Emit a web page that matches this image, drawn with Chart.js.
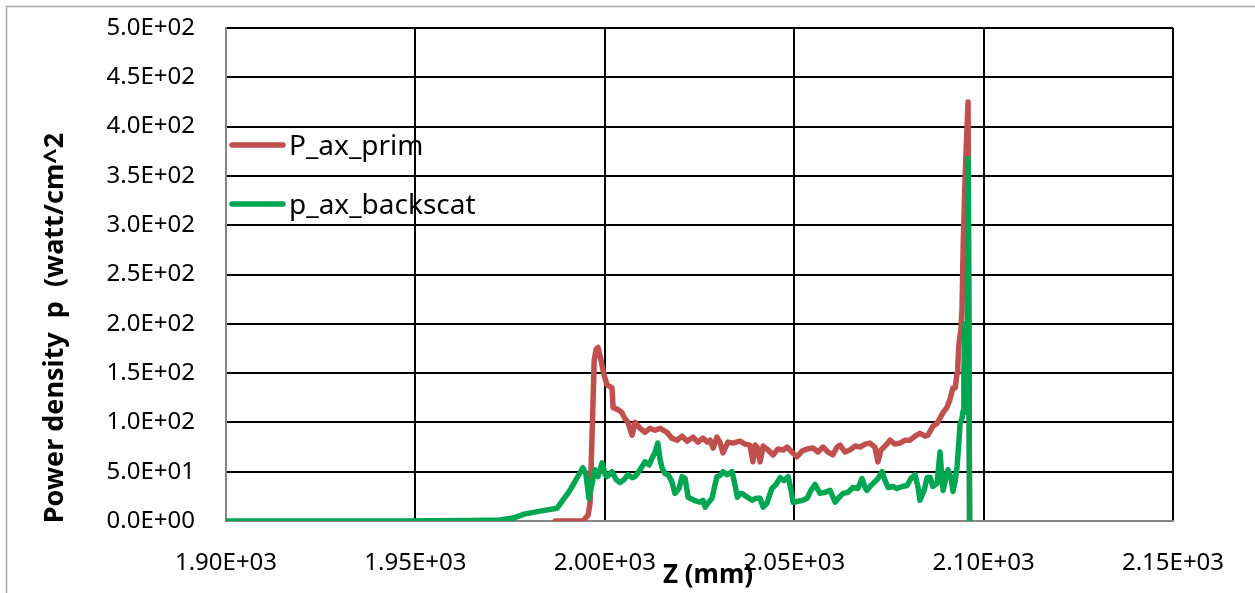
<!DOCTYPE html>
<html>
<head>
<meta charset="utf-8">
<title>Power density</title>
<script src="https://cdn.jsdelivr.net/npm/chart.js@4/dist/chart.umd.min.js"></script>
<style>
  html, body { margin: 0; padding: 0; background: #fff; }
  canvas { display: block; }
</style>
</head>
<body>
<canvas id="powerChart" width="1255" height="593"></canvas>
<script>
// ---------------------- data ----------------------
// Z (mm) / p (watt/cm^2), primary beam
const primZ = [1986.9, 1994.2, 1995.6, 1996.1, 1996.6, 1997.2, 1997.7, 1998.2, 1999.0, 1999.8,
  2000.6, 2001.9, 2002.2, 2003.5, 2004.5, 2005.3, 2006.1, 2007.2, 2008.0, 2009.3,
  2010.6, 2011.9, 2013.3, 2014.6, 2016.4, 2017.7, 2019.1, 2020.4, 2021.7, 2023.3,
  2024.6, 2025.9, 2027.0, 2027.8, 2028.6, 2029.6, 2030.4, 2031.2, 2032.5, 2033.8,
  2035.7, 2037.0, 2038.3, 2039.1, 2039.7, 2040.2, 2041.0, 2041.8, 2043.1, 2044.4,
  2045.7, 2047.1, 2048.1, 2049.4, 2050.7, 2052.1, 2053.4, 2055.0, 2056.3, 2057.6,
  2058.9, 2060.2, 2061.3, 2062.1, 2063.4, 2064.7, 2066.1, 2067.4, 2068.7, 2070.0,
  2071.3, 2072.1, 2072.9, 2074.0, 2075.3, 2076.6, 2077.9, 2079.3, 2080.6, 2081.9,
  2083.2, 2084.5, 2085.3, 2086.6, 2087.7, 2089.3, 2090.3, 2091.1, 2091.9, 2092.5,
  2093.0, 2093.2, 2093.5, 2094.0, 2094.3, 2094.6, 2095.1, 2095.6, 2095.9, 2096.3];
const primP = [0, 0, 6, 18, 82, 163, 174, 176, 163, 148,
  138, 135, 115, 113, 110, 104, 100, 87, 100, 94,
  90, 94, 92, 94, 90, 84, 82, 86, 81, 85,
  80, 84, 80, 82, 74, 85, 80, 69, 80, 79,
  81, 78, 77, 60, 77, 75, 60, 76, 72, 67,
  73, 72, 75, 70, 65, 71, 73, 74, 70, 75,
  70, 67, 75, 77, 70, 72, 76, 75, 78, 79,
  75, 60, 72, 76, 82, 78, 79, 82, 82, 86,
  89, 86, 87, 96, 99, 110, 115, 123, 135, 135,
  150, 158, 180, 194, 214, 278, 346, 397, 425, 0];

// backscattered
const backZ = [1900, 1920, 1945, 1964.4, 1972.3, 1975.8, 1978.7, 1982.9, 1987.4, 1990.8,
  1994.2, 1995.0, 1995.8, 1996.6, 1997.4, 1998.2, 1999.3, 2000.1, 2000.6, 2001.9,
  2003.0, 2004.0, 2005.1, 2006.1, 2007.2, 2008.0, 2009.3, 2010.6, 2011.7, 2012.5,
  2013.3, 2014.0, 2014.6, 2015.1, 2015.9, 2016.7, 2017.7, 2018.5, 2019.6, 2020.4,
  2021.2, 2022.0, 2023.6, 2025.1, 2025.9, 2026.5, 2027.2, 2028.3, 2029.1, 2029.6,
  2030.4, 2031.2, 2032.3, 2033.6, 2034.4, 2035.0, 2035.7, 2036.2, 2037.3, 2038.9,
  2039.9, 2041.0, 2041.8, 2042.8, 2044.1, 2045.2, 2046.3, 2047.3, 2048.4, 2049.2,
  2049.7, 2051.0, 2052.3, 2053.4, 2054.4, 2055.5, 2056.8, 2058.1, 2059.5, 2060.8,
  2062.1, 2062.9, 2064.2, 2065.5, 2066.8, 2067.9, 2068.7, 2069.2, 2070.0, 2070.8,
  2071.9, 2073.2, 2074.0, 2074.8, 2076.1, 2077.1, 2078.5, 2079.8, 2080.8, 2081.9,
  2082.7, 2083.2, 2084.3, 2085.1, 2085.9, 2086.6, 2087.7, 2088.5, 2089.0, 2089.3,
  2090.1, 2090.6, 2091.4, 2091.9, 2092.5, 2093.0, 2093.5, 2093.8, 2094.3, 2094.6,
  2094.8, 2095.1, 2095.4, 2095.6, 2095.9, 2096.3];
const backP = [0, 0, 0, 0.5, 1, 3, 7, 10, 13, 31,
  54, 48, 23, 37, 52, 45, 59, 47, 45, 50,
  42, 39, 42, 47, 44, 45, 52, 60, 57, 64,
  70, 79, 62, 54, 48, 47, 40, 28, 33, 45,
  43, 24, 21, 19, 21, 14, 18, 23, 37, 45,
  46, 50, 47, 50, 36, 24, 28, 28, 25, 21,
  23, 23, 14, 18, 33, 37, 44, 41, 45, 31,
  19, 20, 21, 23, 31, 37, 28, 29, 31, 19,
  25, 28, 29, 34, 33, 43, 34, 31, 35, 38,
  42, 50, 41, 34, 35, 33, 35, 36, 43, 47,
  34, 21, 31, 44, 44, 35, 38, 70, 43, 31,
  44, 52, 44, 30, 41, 55, 82, 99, 104, 112,
  153, 200, 163, 110, 368, 0];

const seriesNames = ['P_ax_prim', 'p_ax_backscat'];
const xTitle = 'Z (mm)';
const yTitle = 'Power density  p  (watt/cm^2';

// ---------------------- style ----------------------
const FONT = "'Noto Sans', 'Open Sans', sans-serif";
const RED = '#C0504D';
const GREEN = '#00A651';
const AXIS_GRAY = '#868686';

// 1.90E+03 style labels, like Excel
function sci(v, digits) {
  if (Math.abs(v) < 1e-9) return (0).toFixed(digits) + 'E+00';
  let e = Math.floor(Math.log10(Math.abs(v)) + 1e-9);
  let m = (v / Math.pow(10, e)).toFixed(digits);
  if (Math.abs(parseFloat(m)) >= 10) { e += 1; m = (v / Math.pow(10, e)).toFixed(digits); }
  return m + 'E' + (e < 0 ? '-' : '+') + String(Math.abs(e)).padStart(2, '0');
}

function toPoints(xs, ys) {
  return xs.map((x, i) => ({ x: x, y: ys[i] }));
}

// frame, in-plot legend and axis titles (Excel puts them where it likes)
const decorPlugin = {
  id: 'decor',
  beforeDraw(chart) {
    const c = chart.ctx;
    c.save();
    c.fillStyle = '#fff';
    c.fillRect(0, 0, chart.width, chart.height);
    c.strokeStyle = '#a6a6a6';
    c.lineWidth = 1.5;
    c.beginPath();
    c.moveTo(6.5, chart.height);
    c.lineTo(6.5, 6.5);
    c.lineTo(chart.width, 6.5);
    c.stroke();
    c.restore();
  },
  afterDraw(chart) {
    const c = chart.ctx;
    c.save();
    // legend
    const rows = [145, 204];
    chart.data.datasets.forEach((ds, i) => {
      const y = rows[i];
      c.strokeStyle = ds.borderColor;
      c.lineWidth = 5.5;
      c.lineCap = 'round';
      c.beginPath();
      c.moveTo(232, y);
      c.lineTo(283, y);
      c.stroke();
      c.fillStyle = '#000';
      c.font = '28px ' + FONT;
      c.textBaseline = 'alphabetic';
      c.textAlign = 'left';
      c.fillText(ds.label, 289, y + 10);
    });
    // axis titles
    c.fillStyle = '#000';
    c.font = 'bold 26px ' + FONT;
    c.textAlign = 'center';
    c.textBaseline = 'middle';
    c.fillText(xTitle, 708, 576);
    c.font = 'bold 27px ' + FONT;
    c.translate(55, 328);
    c.rotate(-Math.PI / 2);
    c.fillText(yTitle, 0, 0);
    c.restore();
  }
};

// ---------------------- chart ----------------------
const ctx = document.getElementById('powerChart').getContext('2d');

const powerChart = new Chart(ctx, {
  type: 'line',
  data: {
    datasets: [{
      label: seriesNames[0],
      data: toPoints(primZ, primP),
      borderColor: RED,
      borderWidth: 5.5,
      pointRadius: 0,
      tension: 0,
      fill: false,
      borderJoinStyle: 'round',
      borderCapStyle: 'round',
      order: 2
    }, {
      label: seriesNames[1],
      data: toPoints(backZ, backP),
      borderColor: GREEN,
      borderWidth: 5.5,
      pointRadius: 0,
      tension: 0,
      fill: false,
      borderJoinStyle: 'round',
      borderCapStyle: 'round',
      order: 1
    }]
  },
  options: {
    responsive: false,
    devicePixelRatio: 1,
    animation: false,
    layout: { autoPadding: false, padding: { top: 28, right: 82, left: 0, bottom: 0 } },
    plugins: {
      legend: { display: false },
      tooltip: { enabled: false }
    },
    scales: {
      x: {
        type: 'linear',
        min: 1900,
        max: 2150,
        afterFit: (s) => { s.height = 72; s.paddingLeft = 0; s.paddingRight = 0; },
        grid: {
          color: (c) => (c.tick && Math.abs(c.tick.value - 1900) < 1e-6 ? AXIS_GRAY : '#000'),
          lineWidth: 2,
          drawTicks: false
        },
        border: { color: AXIS_GRAY, width: 2 },
        ticks: {
          stepSize: 50,
          autoSkip: false,
          maxRotation: 0,
          padding: 28,
          color: '#000',
          font: { family: FONT, size: 24 },
          callback: (v) => sci(v, 2)
        }
      },
      y: {
        min: 0,
        max: 500,
        afterFit: (s) => { s.width = 226; s.paddingTop = 0; s.paddingBottom = 0; },
        grid: {
          color: (c) => (c.tick && Math.abs(c.tick.value) < 1e-6 ? AXIS_GRAY : '#000'),
          lineWidth: 2,
          drawTicks: false
        },
        border: { color: AXIS_GRAY, width: 2 },
        ticks: {
          stepSize: 50,
          padding: 31,
          color: '#000',
          font: { family: FONT, size: 24 },
          callback: (v) => sci(v, 1)
        }
      }
    }
  },
  plugins: [decorPlugin]
});
</script>
</body>
</html>
